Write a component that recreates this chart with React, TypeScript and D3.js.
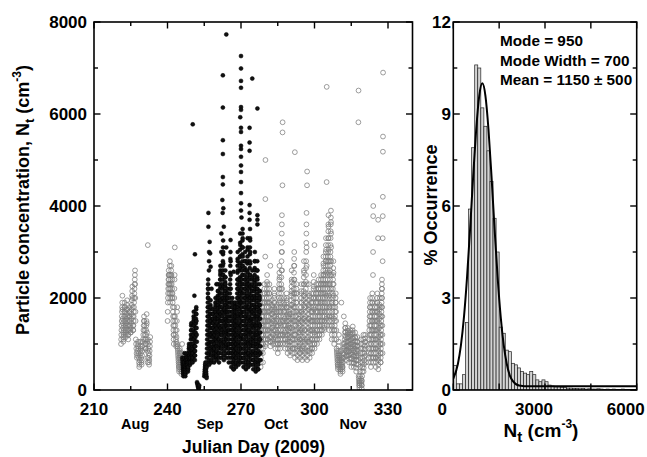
import React from "react";
import * as d3 from "d3";

// ---------- Left panel: time series ----------
const xTicksLeft = [210, 240, 270, 300, 330];
const xMinorLeft = [225, 255, 285, 315];
const yTicksLeft = [0, 2000, 4000, 6000, 8000];
const yMinorLeft = [1000, 3000, 5000, 7000];
const months = ["Aug", "Sep", "Oct", "Nov"];
const monthPos = [226.8, 257.4, 284.3, 315.8];

// [day, values within the day in time order] (cm^-3), open grey circles
const grayDays: [number, number[]][] = [
  [221, [1000, 1100, 1200, 1300, 1400, 1500, 1600, 1700, 1800, 1900, 2050, 1750, 1550, 1450, 1350, 1250, 1150, 1050]],
  [222, [1100, 1200, 1300, 1400, 1500, 1600, 1700, 1800, 1900, 1800, 1700, 1600, 1500, 1400, 1300, 1200]],
  [223, [1150, 1250, 1350, 1450, 1550, 1650, 1750, 1850, 1950, 1750, 1600, 1500, 1400, 1300, 1200, 1100]],
  [224, [1200, 1300, 1400, 1500, 1600, 1700, 1800, 1700, 1600, 1500, 1400, 1300, 1250]],
  [225, [1250, 1350, 1450, 1550, 1650, 1750, 1850, 1950, 2050, 2150, 2250, 2000, 1800, 1600, 1400, 1300]],
  [226, [1300, 1400, 1500, 1600, 1700, 1800, 1900, 2000, 2100, 2200, 2300, 2400, 2500, 2600, 2300, 2000, 1700, 1500]],
  [227, [1100, 1000, 900, 800, 700, 750, 850, 950, 1050]],
  [228, [1000, 900, 800, 700, 600, 500, 550, 650, 750, 850, 950, 1050]],
  [229, [900, 800, 700, 600, 550, 650, 750, 850, 950, 1050]],
  [230, [1100, 1200, 1300, 1400, 1500, 1600, 1500, 1400, 1300, 1200, 1100, 1000, 900]],
  [231, [900, 1000, 1100, 1200, 1300, 1400, 1500, 1650, 1450, 1250, 1050, 850, 700, 600, 3150]],
  [232, [1100, 1000, 900, 800, 700, 600, 550, 650, 750, 850, 950, 1050, 1150]],
  [240, [1500, 1700, 1900, 2000, 2100, 2200, 2300, 2400, 2500, 2600, 2500, 2400, 2300, 2200, 2100, 2300, 2500, 2700, 2800]],
  [241, [1900, 2000, 2100, 2200, 2300, 2400, 2500, 2600, 2700, 2500, 2300, 2100, 2000, 2200, 2400]],
  [242, [2100, 2000, 1900, 1800, 1700, 1600, 1500, 1400, 1300, 1200, 1100, 1000, 1200, 1400, 1600, 1800, 2000, 2200, 2400, 2500, 3100]],
  [243, [1600, 1500, 1400, 1300, 1200, 1100, 1000, 950, 1050, 1150, 1300, 1500, 1700, 1800]],
  [244, [1000, 950, 900, 850, 800, 750, 700, 650, 600, 550, 500, 450, 400, 500, 600, 700, 800]],
  [245, [900, 850, 800, 750, 700, 650, 600, 550, 500, 450, 400, 350, 400, 500, 600, 700, 800, 1000]],
  [278, [500, 600, 700, 800, 900, 1000, 1100, 1200, 1300, 1400, 1500, 1600, 1700, 1800, 1900, 2000, 1800, 1600, 1400, 1200, 1000, 800, 600]],
  [279, [900, 1000, 1100, 1200, 1300, 1400, 1500, 1600, 1700, 1800, 1900, 2000, 2100, 2200, 2300, 2100, 1900, 1700, 1500, 1300, 1100, 950, 2900, 4150, 5000]],
  [280, [1000, 1100, 1200, 1300, 1400, 1500, 1600, 1700, 1800, 1900, 2000, 2100, 2200, 2350, 2500, 2300, 2100, 1900, 1700, 1500, 1300, 1100]],
  [281, [1100, 1200, 1300, 1400, 1500, 1600, 1700, 1800, 1900, 2000, 2100, 2200, 2300, 2100, 1900, 1700, 1500, 1300, 1150, 1050, 2700]],
  [282, [950, 1050, 1150, 1250, 1350, 1450, 1550, 1650, 1750, 1850, 1950, 1800, 1650, 1500, 1350, 1200, 1050]],
  [283, [1000, 1100, 1200, 1300, 1400, 1500, 1600, 1700, 1800, 1900, 2000, 2100, 2200, 2050, 1900, 1750, 1600, 1450, 1300, 1150]],
  [284, [900, 1000, 1100, 1200, 1300, 1400, 1500, 1600, 1700, 1800, 1850, 1700, 1550, 1400, 1250, 1100, 1000]],
  [285, [800, 900, 1000, 1100, 1200, 1300, 1400, 1500, 1600, 1700, 1800, 1900, 2000, 2100, 2200, 2300, 2400, 2550, 2700, 2450, 2200, 1950, 1700, 1450, 1200, 1000]],
  [286, [900, 1000, 1100, 1200, 1300, 1400, 1500, 1600, 1700, 1800, 1900, 2000, 2100, 2200, 2300, 2450, 2600, 2800, 3000, 3200, 3400, 3600, 3800, 3000, 2600, 2200, 1800, 1500, 1200, 4450, 5600, 5820]],
  [287, [1000, 1100, 1200, 1300, 1400, 1500, 1600, 1700, 1800, 1900, 2000, 1850, 1700, 1550, 1400, 1250, 1100]],
  [288, [900, 1000, 1100, 1200, 1300, 1400, 1500, 1600, 1700, 1800, 1900, 2000, 2100, 1950, 1800, 1650, 1500, 1350, 1200, 1050]],
  [289, [800, 900, 1000, 1100, 1200, 1300, 1400, 1500, 1600, 1700, 1800, 1650, 1500, 1350, 1200, 1050, 900]],
  [290, [750, 850, 950, 1050, 1150, 1250, 1350, 1450, 1550, 1650, 1750, 1850, 1950, 2050, 2150, 2250, 2400, 2600, 2350, 2100, 1850, 1600, 1350, 1100, 900]],
  [291, [800, 900, 1000, 1100, 1200, 1300, 1400, 1500, 1600, 1700, 1800, 1900, 2000, 2100, 2200, 2300, 2400, 2550, 2700, 2850, 3000, 2700, 2400, 2100, 1800, 1500, 1200, 5170]],
  [292, [700, 800, 900, 1000, 1100, 1200, 1300, 1400, 1500, 1600, 1700, 1800, 1900, 2000, 2100, 2200, 2300, 2100, 1900, 1700, 1500, 1300, 1100, 900]],
  [293, [650, 750, 850, 950, 1050, 1150, 1250, 1350, 1450, 1550, 1650, 1700, 1550, 1400, 1250, 1100, 950, 800]],
  [294, [700, 800, 900, 1000, 1100, 1200, 1300, 1400, 1500, 1600, 1700, 1800, 1900, 2000, 2150, 2300, 2100, 1900, 1700, 1500, 1300, 1100, 900]],
  [295, [650, 750, 850, 950, 1050, 1150, 1250, 1350, 1450, 1550, 1650, 1750, 1850, 1950, 2050, 2150, 2300, 2450, 2600, 2800, 2550, 2300, 2050, 1800, 1550, 1300, 1050, 850]],
  [296, [700, 800, 900, 1000, 1100, 1200, 1300, 1400, 1500, 1600, 1700, 1800, 1900, 2000, 2100, 2200, 2350, 2500, 2650, 2800, 3000, 3200, 3400, 3600, 3850, 3100, 2700, 2300, 1900, 1500, 1100, 4450, 4750]],
  [297, [650, 750, 850, 950, 1050, 1150, 1250, 1350, 1450, 1550, 1650, 1750, 1850, 1950, 2100, 2300, 2050, 1800, 1550, 1300, 1050, 850]],
  [298, [700, 800, 900, 1000, 1100, 1200, 1300, 1400, 1500, 1600, 1700, 1800, 1900, 2000, 2100, 1900, 1700, 1500, 1300, 1100, 900]],
  [299, [800, 900, 1000, 1100, 1200, 1300, 1400, 1500, 1600, 1700, 1800, 1900, 2000, 2100, 2200, 2350, 2500, 2250, 2000, 1750, 1500, 1250, 1000, 3150]],
  [300, [900, 1000, 1100, 1200, 1300, 1400, 1500, 1600, 1700, 1800, 1900, 2000, 2100, 2200, 2300, 2100, 1900, 1700, 1500, 1300, 1100]],
  [301, [1000, 1100, 1200, 1300, 1400, 1500, 1600, 1700, 1800, 1900, 2000, 2100, 2200, 2300, 2400, 2200, 2000, 1800, 1600, 1400, 1200]],
  [302, [1100, 1200, 1300, 1400, 1500, 1600, 1700, 1800, 1900, 2000, 2100, 2200, 2300, 2400, 2500, 2300, 2100, 1900, 1700, 1500, 1300]],
  [303, [1200, 1300, 1400, 1500, 1600, 1700, 1800, 1900, 2000, 2100, 2200, 2300, 2400, 2500, 2600, 2750, 2900, 2700, 2500, 2300, 2100, 1900, 1700, 1500, 1350]],
  [304, [1300, 1400, 1500, 1600, 1700, 1800, 1900, 2000, 2100, 2200, 2300, 2400, 2500, 2600, 2700, 2800, 2900, 3000, 3150, 3300, 3050, 2800, 2550, 2300, 2050, 1800, 1550, 4520, 6590]],
  [305, [1400, 1500, 1600, 1700, 1800, 1900, 2000, 2100, 2200, 2300, 2400, 2500, 2600, 2700, 2800, 2900, 3000, 3150, 3300, 3450, 3600, 3800, 3550, 3300, 3050, 2800, 2550, 2300, 2050, 1800, 1600]],
  [306, [1300, 1400, 1500, 1600, 1700, 1800, 1900, 2000, 2100, 2200, 2300, 2400, 2500, 2600, 2700, 2800, 2900, 3000, 3150, 3300, 3450, 3600, 3750, 3900, 3650, 3400, 3100, 2800, 2500, 2200, 1900, 1600, 1400]],
  [307, [1100, 1200, 1300, 1400, 1500, 1600, 1700, 1800, 1900, 2000, 2100, 2200, 2300, 2400, 2500, 2650, 2800, 2550, 2300, 2050, 1800, 1550, 1300]],
  [308, [1000, 1100, 1200, 1300, 1400, 1500, 1600, 1700, 1800, 1900, 2000, 2100, 1900, 1700, 1500, 1300, 1100]],
  [309, [900, 850, 800, 750, 700, 650, 600, 550, 500, 450, 550, 650, 750, 850, 950, 1050, 1200]],
  [310, [800, 750, 700, 650, 600, 550, 500, 450, 400, 350, 450, 550, 650, 750, 850, 1900]],
  [311, [700, 650, 600, 550, 500, 450, 400, 500, 600, 700, 800, 900, 1000, 1600]],
  [312, [700, 780, 860, 940, 1020, 1100, 1180, 1260, 1350, 1450, 1350, 1250, 1150, 1050, 950, 850, 750]],
  [313, [650, 730, 810, 890, 970, 1050, 1130, 1210, 1290, 1350, 1250, 1150, 1050, 950, 850, 750]],
  [314, [600, 680, 760, 840, 920, 1000, 1080, 1160, 1240, 1300, 1200, 1100, 1000, 900, 800, 700]],
  [315, [500, 590, 680, 770, 860, 950, 1040, 1130, 1220, 1300, 1380, 1250, 1120, 990, 860, 730, 600]],
  [316, [500, 580, 660, 740, 820, 900, 980, 1060, 1140, 1250, 1150, 1050, 950, 850, 750, 650]],
  [317, [400, 480, 560, 640, 720, 800, 880, 960, 1040, 1150, 1050, 950, 850, 750, 650, 550, 5820, 6510]],
  [318, [300, 250, 200, 150, 100, 50, 100, 150, 200, 300, 400, 500, 600, 700, 800, 900, 1000, 1100]],
  [319, [250, 200, 150, 100, 30, 100, 200, 300, 400, 500, 600, 700, 800, 900, 1000, 1100, 1200]],
  [320, [400, 480, 560, 640, 720, 800, 880, 960, 1040, 1120, 1200, 1050, 900, 750, 600]],
  [322, [600, 700, 800, 900, 1000, 1100, 1200, 1300, 1400, 1500, 1600, 1700, 1800, 1900, 2000, 1800, 1600, 1400, 1200, 1000, 800]],
  [323, [500, 600, 700, 800, 900, 1000, 1100, 1200, 1300, 1400, 1500, 1600, 1700, 1800, 1900, 2000, 2100, 1900, 1700, 1500, 1300, 1100, 900, 700, 2500, 3000, 3780, 4000]],
  [324, [600, 700, 800, 900, 1000, 1100, 1200, 1300, 1400, 1500, 1600, 1700, 1800, 1900, 1700, 1500, 1300, 1100, 900, 700]],
  [325, [500, 600, 700, 800, 900, 1000, 1100, 1200, 1300, 1400, 1500, 1600, 1700, 1800, 1900, 2000, 2100, 1900, 1700, 1500, 1300, 1100, 900, 700, 3300, 3700]],
  [326, [450, 550, 650, 750, 850, 950, 1050, 1150, 1250, 1350, 1450, 1550, 1650, 1750, 1850, 2000, 1800, 1600, 1400, 1200, 1000, 800, 600]],
  [327, [600, 700, 800, 900, 1000, 1100, 1200, 1300, 1400, 1500, 1600, 1700, 1800, 1900, 2000, 2100, 2200, 2300, 2400, 2200, 2000, 1800, 1600, 1400, 1200, 1000, 800, 2800, 3300, 3780, 4200, 5180, 5510, 6900]],
];

// [day, values within the day] filled black circles
const blackDays: [number, number[]][] = [
  [246, [700, 650, 600, 550, 500, 450, 400, 350, 300, 350, 400, 450, 500, 550, 600, 700, 800]],
  [247, [500, 450, 400, 350, 300, 350, 400, 450, 500, 550, 600, 650, 700, 750, 800, 700, 600]],
  [248, [650, 600, 550, 500, 450, 400, 450, 500, 600, 700, 800, 900, 1000, 950, 850, 750]],
  [249, [750, 700, 650, 600, 550, 600, 700, 800, 900, 1000, 1100, 1200, 1300, 1400, 1450, 1300, 1150, 1000, 900, 800]],
  [250, [850, 800, 750, 700, 650, 600, 700, 800, 900, 1000, 1100, 1200, 1300, 1400, 1500, 1600, 1700, 1550, 1400, 1250, 1100, 950, 2050]],
  [251, [950, 850, 750, 650, 750, 850, 950, 1050, 1150, 1250, 1350, 1450, 1550, 1650, 1750, 1800, 1650, 1500, 1350, 1200, 1050]],
  [252, [170, 140, 110, 80, 50, 20, 60, 100]],
  [255, [300, 350, 400, 450, 500, 550, 600, 550, 500, 450, 400, 350, 300, 260]],
  [256, [500, 600, 700, 800, 900, 1000, 1100, 1200, 1300, 1400, 1500, 1600, 1700, 1800, 1900, 2000, 2100, 2200, 2300, 2400, 2200, 2000, 1800, 1600, 1400, 1200, 1000, 800, 600, 2600, 2800, 3000]],
  [257, [550, 650, 750, 850, 950, 1050, 1150, 1250, 1350, 1450, 1550, 1650, 1750, 1850, 1950, 1800, 1650, 1500, 1350, 1200, 1050, 900, 750, 600, 2200]],
  [258, [650, 750, 850, 950, 1050, 1150, 1250, 1350, 1450, 1550, 1650, 1750, 1650, 1550, 1450, 1350, 1250, 1150, 1050, 950, 850, 750]],
  [259, [600, 700, 800, 900, 1000, 1100, 1200, 1300, 1400, 1500, 1600, 1700, 1800, 1900, 2000, 1850, 1700, 1550, 1400, 1250, 1100, 950, 800, 700, 2300]],
  [260, [650, 750, 850, 950, 1050, 1150, 1250, 1350, 1450, 1550, 1650, 1750, 1850, 1950, 2050, 2150, 2300, 2150, 2000, 1850, 1700, 1550, 1400, 1250, 1100, 950, 800]],
  [261, [600, 700, 800, 900, 1000, 1100, 1200, 1300, 1400, 1500, 1600, 1700, 1800, 1900, 2000, 2100, 2200, 2300, 2400, 2500, 2600, 2700, 2550, 2400, 2250, 2100, 1950, 1800, 1650, 1500, 1350, 1200, 1050, 900, 3000, 3400]],
  [262, [700, 800, 900, 1000, 1100, 1200, 1300, 1400, 1500, 1600, 1700, 1800, 1900, 2000, 2100, 2200, 2300, 2400, 2500, 2600, 2700, 2800, 2950, 3100, 3250, 3000, 2750, 2500, 2250, 2000, 1750, 1500, 1250, 1000, 3550]],
  [263, [650, 750, 850, 950, 1050, 1150, 1250, 1350, 1450, 1550, 1650, 1750, 1850, 1950, 2050, 2150, 2250, 2350, 2450, 2600, 2450, 2300, 2150, 2000, 1850, 1700, 1550, 1400, 1250, 1100, 950, 3100]],
  [264, [700, 800, 900, 1000, 1100, 1200, 1300, 1400, 1500, 1600, 1700, 1800, 1900, 2000, 2100, 2200, 2100, 2000, 1900, 1800, 1700, 1600, 1500, 1400, 1300, 1200, 1100, 1000, 900, 800]],
  [265, [600, 700, 800, 900, 1000, 1100, 1200, 1300, 1400, 1500, 1600, 1700, 1800, 1900, 2000, 2100, 2200, 2300, 2400, 2550, 2700, 2850, 3000, 3260, 2800, 2500, 2200, 1900, 1600, 1300, 1000, 800]],
  [266, [500, 600, 700, 800, 900, 1000, 1100, 1200, 1300, 1400, 1500, 1600, 1700, 1800, 1900, 2000, 1900, 1800, 1700, 1600, 1500, 1400, 1300, 1200, 1100, 1000, 900, 800, 700, 600, 450, 2570]],
  [267, [450, 550, 650, 750, 850, 950, 1050, 1150, 1250, 1350, 1450, 1550, 1650, 1750, 1850, 1900, 1800, 1700, 1600, 1500, 1400, 1300, 1200, 1100, 1000, 900, 800, 700, 550]],
  [268, [500, 600, 700, 800, 900, 1000, 1100, 1200, 1300, 1400, 1500, 1600, 1700, 1800, 1900, 2000, 2100, 2200, 2300, 2400, 2550, 2700, 2850, 3000, 2800, 2600, 2400, 2200, 2000, 1800, 1600, 1400, 1200, 1000, 800, 600]],
  [269, [550, 650, 750, 850, 950, 1050, 1150, 1250, 1350, 1450, 1550, 1650, 1750, 1850, 1950, 2050, 2150, 2250, 2350, 2450, 2600, 2750, 2900, 3050, 3200, 3400, 3150, 2900, 2650, 2400, 2150, 1900, 1650, 1400, 1150, 900, 700]],
  [270, [600, 700, 800, 900, 1000, 1100, 1200, 1300, 1400, 1500, 1600, 1700, 1800, 1900, 2000, 2100, 2200, 2300, 2400, 2500, 2600, 2700, 2800, 2950, 3100, 3250, 3400, 3500, 3300, 3100, 2900, 2700, 2500, 2300, 2100, 1900, 1700, 1500, 1300, 1100, 900, 700]],
  [271, [500, 600, 700, 800, 900, 1000, 1100, 1200, 1300, 1400, 1500, 1600, 1700, 1800, 1900, 2000, 2100, 2200, 2300, 2400, 2500, 2650, 2800, 3000, 2800, 2600, 2400, 2200, 2000, 1800, 1600, 1400, 1200, 1000, 800]],
  [272, [450, 550, 650, 750, 850, 950, 1050, 1150, 1250, 1350, 1450, 1550, 1650, 1750, 1850, 1950, 2050, 2150, 2250, 2350, 2450, 2600, 2750, 2900, 3100, 3300, 3050, 2800, 2550, 2300, 2050, 1800, 1550, 1300, 1050, 800, 600]],
  [273, [500, 600, 700, 800, 900, 1000, 1100, 1200, 1300, 1400, 1500, 1600, 1700, 1800, 1900, 2000, 2100, 2200, 2300, 2400, 2500, 2650, 2800, 2950, 3100, 3300, 3500, 3250, 3000, 2750, 2500, 2250, 2000, 1750, 1500, 1250, 1000, 750]],
  [274, [550, 650, 750, 850, 950, 1050, 1150, 1250, 1350, 1450, 1550, 1650, 1750, 1850, 1950, 2050, 2150, 2250, 2400, 2600, 2450, 2300, 2150, 2000, 1850, 1700, 1550, 1400, 1250, 1100, 950, 800, 650]],
  [275, [450, 550, 650, 750, 850, 950, 1050, 1150, 1250, 1350, 1450, 1550, 1650, 1750, 1850, 1950, 2050, 2150, 2250, 2350, 2500, 2650, 2800, 3000, 2800, 2600, 2400, 2200, 2000, 1800, 1600, 1400, 1200, 1000, 800, 600]],
  [276, [400, 500, 600, 700, 800, 900, 1000, 1100, 1200, 1300, 1400, 1500, 1600, 1700, 1800, 1900, 2000, 2100, 2200, 2300, 2450, 2600, 2800, 2600, 2400, 2200, 2000, 1800, 1600, 1400, 1200, 1000, 800, 600, 450]],
  [277, [450, 550, 650, 750, 850, 950, 1050, 1150, 1250, 1350, 1450, 1550, 1650, 1750, 1850, 1950, 2050, 2150, 2300, 2150, 2000, 1850, 1700, 1550, 1400, 1250, 1100, 950, 800, 650]],
];

// isolated black points [day, value]
const blackOutliers: [number, number][] = [
  [250.3, 5775], [251.2, 2950], [256.7, 3850], [256.7, 3550], [257.2, 3220], [257.4, 2970], [257.6, 2680],
  [262.6, 6840], [262.6, 6140], [262.6, 5430], [262.6, 5130], [262.6, 4630], [262.6, 4470],
  [262.4, 4130], [262.8, 3950], [262.5, 3850], [264.0, 7730],
  [270.0, 7260], [270.0, 6990], [270.0, 6720], [270.0, 6570], [270.0, 6150], [270.0, 6090],
  [269.7, 5930], [270.0, 5700], [270.0, 5610], [270.0, 5310], [270.0, 5240], [270.0, 5070],
  [270.0, 4880], [270.0, 4740], [270.0, 4520], [270.0, 4280], [270.0, 4060], [270.0, 3900], [270.2, 3750],
  [273.5, 5700], [273.5, 5380], [273.5, 5200], [273.5, 4020], [273.5, 3850], [273.5, 3700],
  [274.6, 6770], [276.7, 6120], [276.7, 3800], [276.7, 3700], [276.7, 3600],
];

// ---------- Right panel: histogram ----------
const histBinWidth = 100;
const histValues = [
  0.8, 0.2, 0.2, 0.5, 2.2, 5.9, 7.9, 10.6, 10.5, 9.2, 8.6, 7.8, 6.8, 5.6, 4.5, 2.05, 1.85, 1.3, 1.25, 0.87,
  0.82, 0.72, 0.6, 0.55, 0.5, 0.6, 0.5, 0.33, 0.27, 0.33, 0.27, 0.16, 0.13, 0.1, 0.1, 0.08, 0.08, 0.06, 0.06, 0.05,
  0.05, 0.04, 0.05, 0.03, 0.04, 0.03, 0.03, 0.04, 0.03, 0.02, 0.03, 0.02, 0.03, 0.02, 0.02, 0.03, 0.02, 0.02, 0.02, 0.02,
];
// fitted curve [Nt, %]
const fitCurve: [number, number][] = [
  [0, 0.37], [150, 0.85], [250, 1.46], [350, 2.39], [450, 3.68], [550, 5.26], [650, 6.97], [750, 8.51],
  [850, 9.6], [950, 10.0], [1050, 9.6], [1150, 8.51], [1250, 6.97], [1350, 5.26], [1450, 3.68], [1550, 2.39],
  [1650, 1.46], [1750, 0.85], [1850, 0.47], [1950, 0.29], [2150, 0.15], [2500, 0.12], [6000, 0.12],
];
const xTicksRight = [0, 3000, 6000];
const xMinorRight = [1500, 4500];
const yTicksRight = [0, 3, 6, 9, 12];
const yMinorRight = [1.5, 4.5, 7.5, 10.5];
const annotations = ["Mode = 950", "Mode Width = 700", "Mean = 1150 \u00b1 500"];

const FONT = "'Liberation Sans', Arial, Helvetica, sans-serif";

function expand(days: [number, number[]][]) {
  return days.flatMap(([d, vals]) => vals.map((v, i) => ({ t: d + (i + 0.5) / vals.length, v })));
}

export default function App() {
  const L = { x0: 94, x1: 412.5, y0: 22, y1: 390 };
  const R = { x0: 453.3, x1: 636.7, y0: 22, y1: 390 };
  const xL = d3.scaleLinear().domain([210, 340]).range([L.x0, L.x1]);
  const yL = d3.scaleLinear().domain([0, 8000]).range([L.y1, L.y0]);
  const xR = d3.scaleLinear().domain([0, 6000]).range([R.x0, R.x1]);
  const yR = d3.scaleLinear().domain([0, 12]).range([R.y1, R.y0]);

  const grayPts = expand(grayDays);
  const blackPts = expand(blackDays).concat(blackOutliers.map(([t, v]) => ({ t, v })));

  const line = d3
    .line<[number, number]>()
    .x((d) => xR(d[0]))
    .y((d) => yR(d[1]))
    .curve(d3.curveMonotoneX);

  const tickStyle = { stroke: "#000", strokeWidth: 1.4 };
  const major = 6.5;
  const minor = 4;

  const lblStyle: React.CSSProperties = { fontFamily: FONT, fontWeight: 700, fontSize: 17 };
  const titleStyle: React.CSSProperties = { fontFamily: FONT, fontWeight: 700, fontSize: 18 };

  return (
    <svg width={647} height={457} style={{ position: "absolute", left: 0, top: 0, background: "#fff" }}>
      <defs>
        <clipPath id="clipL">
          <rect x={L.x0} y={L.y0} width={L.x1 - L.x0} height={L.y1 - L.y0} />
        </clipPath>
        <clipPath id="clipR">
          <rect x={R.x0} y={R.y0} width={R.x1 - R.x0} height={R.y1 - R.y0} />
        </clipPath>
      </defs>
      <rect width={647} height={457} fill="#fff" />

      {/* ----- Left panel ----- */}
      <g clipPath="url(#clipL)">
        {grayPts.map((p, i) => (
          <circle key={"g" + i} cx={xL(p.t)} cy={yL(p.v)} r={2.4} fill="none" stroke="#7c7c7c" strokeWidth={0.75} />
        ))}
        {blackPts.map((p, i) => (
          <circle key={"b" + i} cx={xL(p.t)} cy={yL(p.v)} r={2.0} fill="#111" stroke="#000" strokeWidth={0.5} />
        ))}
      </g>
      <rect x={L.x0} y={L.y0} width={L.x1 - L.x0} height={L.y1 - L.y0} fill="none" stroke="#000" strokeWidth={1.6} />
      {xTicksLeft.map((t) => (
        <g key={"xl" + t}>
          <line x1={xL(t)} x2={xL(t)} y1={L.y1} y2={L.y1 - major} {...tickStyle} />
          <line x1={xL(t)} x2={xL(t)} y1={L.y0} y2={L.y0 + major} {...tickStyle} />
          <text x={xL(t)} y={415} textAnchor="middle" style={lblStyle}>{t}</text>
        </g>
      ))}
      {xMinorLeft.map((t) => (
        <g key={"xlm" + t}>
          <line x1={xL(t)} x2={xL(t)} y1={L.y1} y2={L.y1 - minor} {...tickStyle} />
          <line x1={xL(t)} x2={xL(t)} y1={L.y0} y2={L.y0 + minor} {...tickStyle} />
        </g>
      ))}
      {yTicksLeft.map((t) => (
        <g key={"yl" + t}>
          <line x1={L.x0} x2={L.x0 + major} y1={yL(t)} y2={yL(t)} {...tickStyle} />
          <line x1={L.x1} x2={L.x1 - major} y1={yL(t)} y2={yL(t)} {...tickStyle} />
          <text x={87} y={yL(t) + 5.5} textAnchor="end" style={lblStyle}>{t}</text>
        </g>
      ))}
      {yMinorLeft.map((t) => (
        <g key={"ylm" + t}>
          <line x1={L.x0} x2={L.x0 + minor} y1={yL(t)} y2={yL(t)} {...tickStyle} />
          <line x1={L.x1} x2={L.x1 - minor} y1={yL(t)} y2={yL(t)} {...tickStyle} />
        </g>
      ))}
      {months.map((m, i) => (
        <text key={m} x={xL(monthPos[i])} y={429} textAnchor="middle" style={{ ...titleStyle, fontSize: 14.5 }}>{m}</text>
      ))}
      <text x={253.5} y={453} textAnchor="middle" style={{ ...titleStyle, fontSize: 17.5 }}>Julian Day (2009)</text>
      <text transform="translate(29,200) rotate(-90)" textAnchor="middle" style={titleStyle}>
        Particle concentration, N<tspan fontSize={13} dy={5}>t</tspan>
        <tspan dy={-5}> (cm</tspan>
        <tspan fontSize={12} dy={-8}>-3</tspan>
        <tspan dy={8}>)</tspan>
      </text>

      {/* ----- Right panel ----- */}
      <g clipPath="url(#clipR)">
        {histValues.map((v, i) => (
          <rect
            key={"h" + i}
            x={xR(i * histBinWidth)}
            y={yR(v)}
            width={xR((i + 1) * histBinWidth) - xR(i * histBinWidth)}
            height={yR(0) - yR(v)}
            fill="#d4d4d4"
            stroke="#222"
            strokeWidth={0.7}
          />
        ))}
        <path d={line(fitCurve) || ""} fill="none" stroke="#000" strokeWidth={2} />
      </g>
      <rect x={R.x0} y={R.y0} width={R.x1 - R.x0} height={R.y1 - R.y0} fill="none" stroke="#000" strokeWidth={1.6} />
      {xTicksRight.map((t) => (
        <g key={"xr" + t}>
          <line x1={xR(t)} x2={xR(t)} y1={R.y1} y2={R.y1 - major} {...tickStyle} />
          <line x1={xR(t)} x2={xR(t)} y1={R.y0} y2={R.y0 + major} {...tickStyle} />
          <text x={xR(t) - 11} y={415} textAnchor="middle" style={lblStyle}>{t}</text>
        </g>
      ))}
      {xMinorRight.map((t) => (
        <g key={"xrm" + t}>
          <line x1={xR(t)} x2={xR(t)} y1={R.y1} y2={R.y1 - major} {...tickStyle} />
          <line x1={xR(t)} x2={xR(t)} y1={R.y0} y2={R.y0 + major} {...tickStyle} />
        </g>
      ))}
      {yTicksRight.map((t) => (
        <g key={"yr" + t}>
          <line x1={R.x0} x2={R.x0 + major} y1={yR(t)} y2={yR(t)} {...tickStyle} />
          <line x1={R.x1} x2={R.x1 - major} y1={yR(t)} y2={yR(t)} {...tickStyle} />
          <text x={451} y={yR(t) + 5.5} textAnchor="end" style={lblStyle}>{t}</text>
        </g>
      ))}
      {yMinorRight.map((t) => (
        <g key={"yrm" + t}>
          <line x1={R.x0} x2={R.x0 + minor} y1={yR(t)} y2={yR(t)} {...tickStyle} />
          <line x1={R.x1} x2={R.x1 - minor} y1={yR(t)} y2={yR(t)} {...tickStyle} />
        </g>
      ))}
      {annotations.map((a, i) => (
        <text key={a} x={500} y={46 + i * 19.5} style={{ ...titleStyle, fontSize: 15.3 }}>{a}</text>
      ))}
      <text transform="translate(437,205) rotate(-90)" textAnchor="middle" style={titleStyle}>% Occurrence</text>
      <text x={541} y={437} textAnchor="middle" style={{ ...titleStyle, fontSize: 19 }}>
        N<tspan fontSize={15} dy={5}>t</tspan>
        <tspan dy={-5}> (cm</tspan>
        <tspan fontSize={12} dy={-9}>-3</tspan>
        <tspan dy={9}>)</tspan>
      </text>
    </svg>
  );
}
